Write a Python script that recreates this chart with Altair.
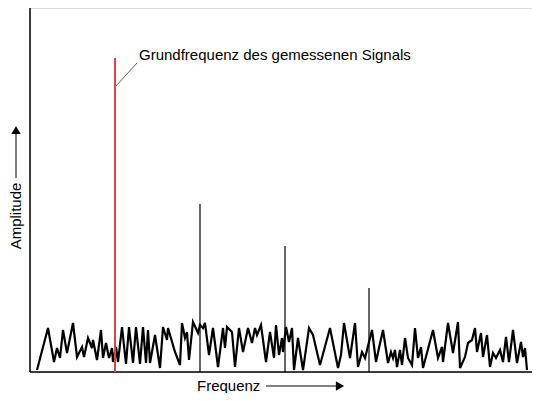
import altair as alt
import pandas as pd

# noise trace (frequency position, amplitude)
noise_f = [37, 48, 54, 57, 60, 63, 67, 73, 77, 82, 84, 88, 92, 93, 97, 101, 103, 106, 109, 112,
           113, 116, 118, 122, 126, 129, 133, 136, 140, 143, 146, 148, 150, 155, 160, 163, 167, 168,
           175, 180, 182, 185, 187, 189, 193, 198, 200, 203, 205, 209, 213, 218, 223, 225, 227, 232,
           235, 239, 243, 248, 252, 255, 257, 261, 266, 270, 274, 276, 279, 282, 283, 286, 289, 292,
           294, 298, 303, 309, 313, 320, 330, 338, 341, 344, 350, 355, 358, 362, 365, 372, 376, 379,
           383, 388, 391, 393, 395, 397, 400, 402, 405, 408, 412, 415, 418, 421, 423, 433, 438, 442,
           443, 448, 453, 458, 460, 465, 468, 472, 475, 477, 481, 483, 487, 490, 493, 496, 500, 503,
           506, 509, 513, 517, 521, 523, 525, 527]
noise_a = [2, 44, 10, 24, 14, 42, 19, 49, 15, 25, 15, 34, 24, 32, 12, 42, 14, 29, 14, 24,
           10, 25, 10, 45, 8, 45, 9, 45, 8, 45, 9, 42, 9, 37, 4, 45, 32, 44,
           20, 7, 49, 34, 40, 12, 50, 39, 47, 44, 49, 17, 44, 5, 44, 24, 45, 40,
           5, 44, 20, 44, 29, 44, 37, 47, 10, 40, 14, 47, 17, 34, 20, 45, 30, 44,
           2, 34, 2, 44, 37, 7, 44, 4, 17, 49, 14, 49, 5, 20, 14, 42, 10, 24,
           42, 9, 20, 14, 22, 5, 22, 7, 34, 14, 7, 44, 14, 25, 4, 42, 14, 25,
           10, 49, 19, 50, 4, 15, 29, 32, 44, 20, 39, 15, 37, 5, 19, 14, 22, 10,
           35, 10, 42, 9, 30, 15, 24, 2]

# fundamental and harmonics
fund_f = [115]
fund_a = [314]
harm_f = [200, 285, 369]
harm_a = [168, 126, 84]

annot_text = ["Grundfrequenz des gemessenen Signals"]

noise = pd.DataFrame({"f": noise_f, "a": noise_a})
fund = pd.DataFrame({"f": fund_f, "a0": [0], "a": fund_a})
harm = pd.DataFrame({"f": harm_f, "a0": [0] * 3, "a": harm_a})

xs = alt.Scale(domain=[30, 532])
ys = alt.Scale(domain=[0, 364])
X = lambda f="f": alt.X(f, type="quantitative", scale=xs, axis=None)
Y = lambda f="a": alt.Y(f, type="quantitative", scale=ys, axis=None)

FONT = "Liberation Sans"

axes_df = pd.DataFrame({"f": [30, 30], "a": [0, 0], "f2": [30, 532], "a2": [364, 0]})
axes = alt.Chart(axes_df).mark_rule(color="black", strokeWidth=1.5).encode(
    x=X("f"), y=Y("a"), x2="f2", y2="a2")

noise_line = alt.Chart(noise).mark_line(color="black", strokeWidth=2.2, strokeJoin="miter").encode(
    x=X("f"), y=Y("a"))

fund_rule = alt.Chart(fund).mark_rule(color="#d9474b", strokeWidth=2).encode(
    x=X("f"), y=Y("a0"), y2="a")
harm_rule = alt.Chart(harm).mark_rule(color="black", strokeWidth=1.2).encode(
    x=X("f"), y=Y("a0"), y2="a")

leader = alt.Chart(pd.DataFrame({"f": [116], "a": [286], "f2": [137], "a2": [309]})).mark_rule(
    color="#333333", strokeWidth=0.8).encode(x=X("f"), y=Y("a"), x2="f2", y2="a2")

label = alt.Chart(pd.DataFrame({"f": [139], "a": [317], "t": annot_text})).mark_text(
    align="left", baseline="middle", fontSize=15, font=FONT, color="black").encode(
    x=X("f"), y=Y("a"), text="t")

# axis titles with arrows
xt = alt.Chart(pd.DataFrame({"f": [197], "a": [-14], "t": ["Frequenz"]})).mark_text(
    align="left", baseline="middle", fontSize=15, font=FONT, color="black").encode(
    x=X("f"), y=Y("a"), text="t")
xarrow = alt.Chart(pd.DataFrame({"f": [266], "a": [-14], "f2": [336]})).mark_rule(
    color="black", strokeWidth=1).encode(x=X("f"), y=Y("a"), x2="f2")
xhead = alt.Chart(pd.DataFrame({"f": [340], "a": [-14]})).mark_point(
    shape="triangle-right", filled=True, color="black", size=90, opacity=1).encode(x=X("f"), y=Y("a"))

yt = alt.Chart(pd.DataFrame({"f": [16], "a": [156], "t": ["Amplitude"]})).mark_text(
    align="center", baseline="middle", angle=270, fontSize=15, font=FONT,
    color="black").encode(x=X("f"), y=Y("a"), text="t")
yarrow = alt.Chart(pd.DataFrame({"f": [16], "a": [194], "a2": [238]})).mark_rule(
    color="black", strokeWidth=1).encode(x=X("f"), y=Y("a"), y2="a2")
yhead = alt.Chart(pd.DataFrame({"f": [16], "a": [242]})).mark_point(
    shape="triangle-up", filled=True, color="black", size=90, opacity=1).encode(x=X("f"), y=Y("a"))

chart = alt.layer(axes, noise_line, harm_rule, fund_rule, leader, label,
                  xt, xarrow, xhead, yt, yarrow, yhead).properties(
    width=502, height=364,
    autosize=alt.AutoSizeParams(type="none"),
    padding={"left": 22, "top": 0, "right": 0, "bottom": 21},
).configure_view(stroke=None).configure(background="white")

chart.save("out.html", embed_options={"renderer": "svg", "actions": False})
